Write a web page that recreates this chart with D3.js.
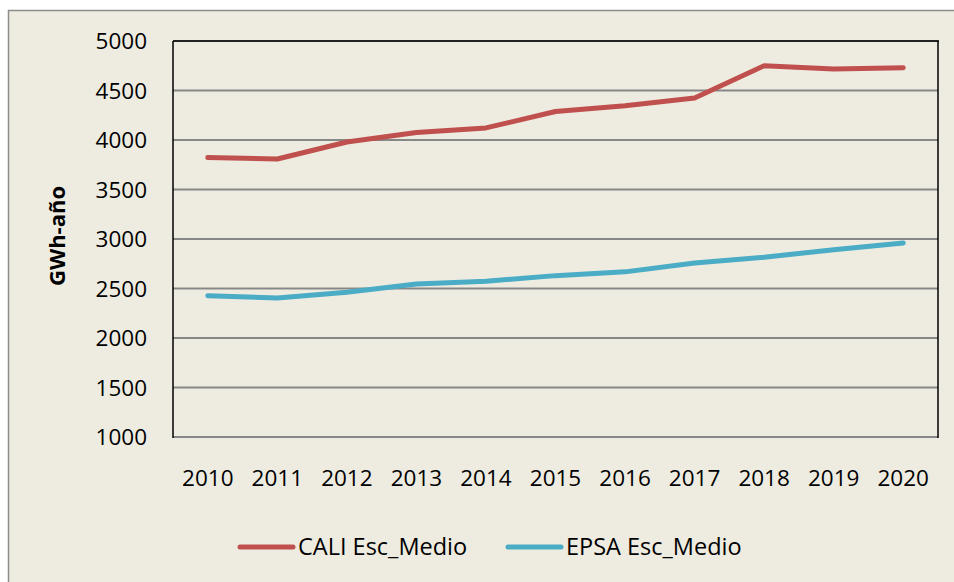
<!doctype html>
<html>
<head>
<meta charset="utf-8">
<style>
  body { margin: 0; background: #fff; }
  text { font-family: "Open Sans", "Noto Sans", sans-serif; fill: #000; }
</style>
<script src="https://d3js.org/d3.v7.min.js"></script>
</head>
<body>
<svg width="954" height="582"></svg>
<script>
// data
var years = ["2010", "2011", "2012", "2013", "2014", "2015", "2016", "2017", "2018", "2019", "2020"];
var cali = [3822, 3808, 3980, 4075, 4122, 4288, 4345, 4425, 4750, 4718, 4730];
var epsa = [2427, 2405, 2463, 2545, 2573, 2630, 2668, 2758, 2815, 2892, 2960];
var yTicks = [1000, 1500, 2000, 2500, 3000, 3500, 4000, 4500, 5000];
var seriesNames = ["CALI Esc_Medio", "EPSA Esc_Medio"];
var colors = ["#C0504D", "#4BACC6"];

var svg = d3.select("svg");
var plotL = 173, plotR = 938, plotT = 41, plotB = 437;

// chart background + frame
svg.append("rect")
   .attr("x", 8.5).attr("y", 10.5)
   .attr("width", 960).attr("height", 600)
   .attr("fill", "#EEECE1")
   .attr("stroke", "#8C8C8C").attr("stroke-width", 1.5);

var x = d3.scaleBand().domain(years).range([plotL, plotR]);
var y = d3.scaleLinear().domain([1000, 5000]).range([plotB, plotT]);

// gridlines
svg.append("g").selectAll("line")
   .data(yTicks)
   .enter().append("line")
   .attr("x1", plotL).attr("x2", plotR)
   .attr("y1", function(d) { return y(d); })
   .attr("y2", function(d) { return y(d); })
   .attr("stroke", "#878787")
   .attr("stroke-width", 2);

// plot frame: top, right, left axis
svg.append("line").attr("x1", plotL).attr("x2", plotR + 1).attr("y1", plotT).attr("y2", plotT)
   .attr("stroke", "#000").attr("stroke-width", 1.5);
svg.append("line").attr("x1", plotR).attr("x2", plotR).attr("y1", plotT).attr("y2", plotB + 1)
   .attr("stroke", "#000").attr("stroke-width", 1.5);
svg.append("line").attr("x1", plotL).attr("x2", plotL).attr("y1", plotT).attr("y2", plotB + 1)
   .attr("stroke", "#000").attr("stroke-width", 1.5);

// y tick labels
svg.append("g").selectAll("text")
   .data(yTicks)
   .enter().append("text")
   .attr("x", 147)
   .attr("y", function(d) { return y(d); })
   .attr("dy", "0.36em")
   .attr("text-anchor", "end")
   .style("font-size", "22.5px")
   .text(function(d) { return d; });

// x tick labels
svg.append("g").selectAll("text")
   .data(years)
   .enter().append("text")
   .attr("x", function(d) { return x(d) + x.bandwidth() / 2; })
   .attr("y", 486)
   .attr("text-anchor", "middle")
   .style("font-size", "22.5px")
   .text(function(d) { return d; });

// y axis title
svg.append("text")
   .attr("transform", "translate(65,236) rotate(-90)")
   .attr("text-anchor", "middle")
   .style("font-size", "22px")
   .style("font-weight", "bold")
   .text("GWh-año");

// lines
var line = d3.line()
   .x(function(d, i) { return x(years[i]) + x.bandwidth() / 2; })
   .y(function(d) { return y(d); });

[cali, epsa].forEach(function(s, i) {
  svg.append("path")
     .datum(s)
     .attr("d", line)
     .attr("fill", "none")
     .attr("stroke", colors[i])
     .attr("stroke-width", 5)
     .attr("stroke-linecap", "round")
     .attr("stroke-linejoin", "round");
});

// legend
var legendX = [240, 508];
seriesNames.forEach(function(name, i) {
  svg.append("line")
     .attr("x1", legendX[i]).attr("x2", legendX[i] + 53)
     .attr("y1", 547).attr("y2", 547)
     .attr("stroke", colors[i]).attr("stroke-width", 5)
     .attr("stroke-linecap", "round");
  svg.append("text")
     .attr("x", legendX[i] + 58)
     .attr("y", 555)
     .style("font-size", "23.5px")
     .text(name);
});
</script>
</body>
</html>
